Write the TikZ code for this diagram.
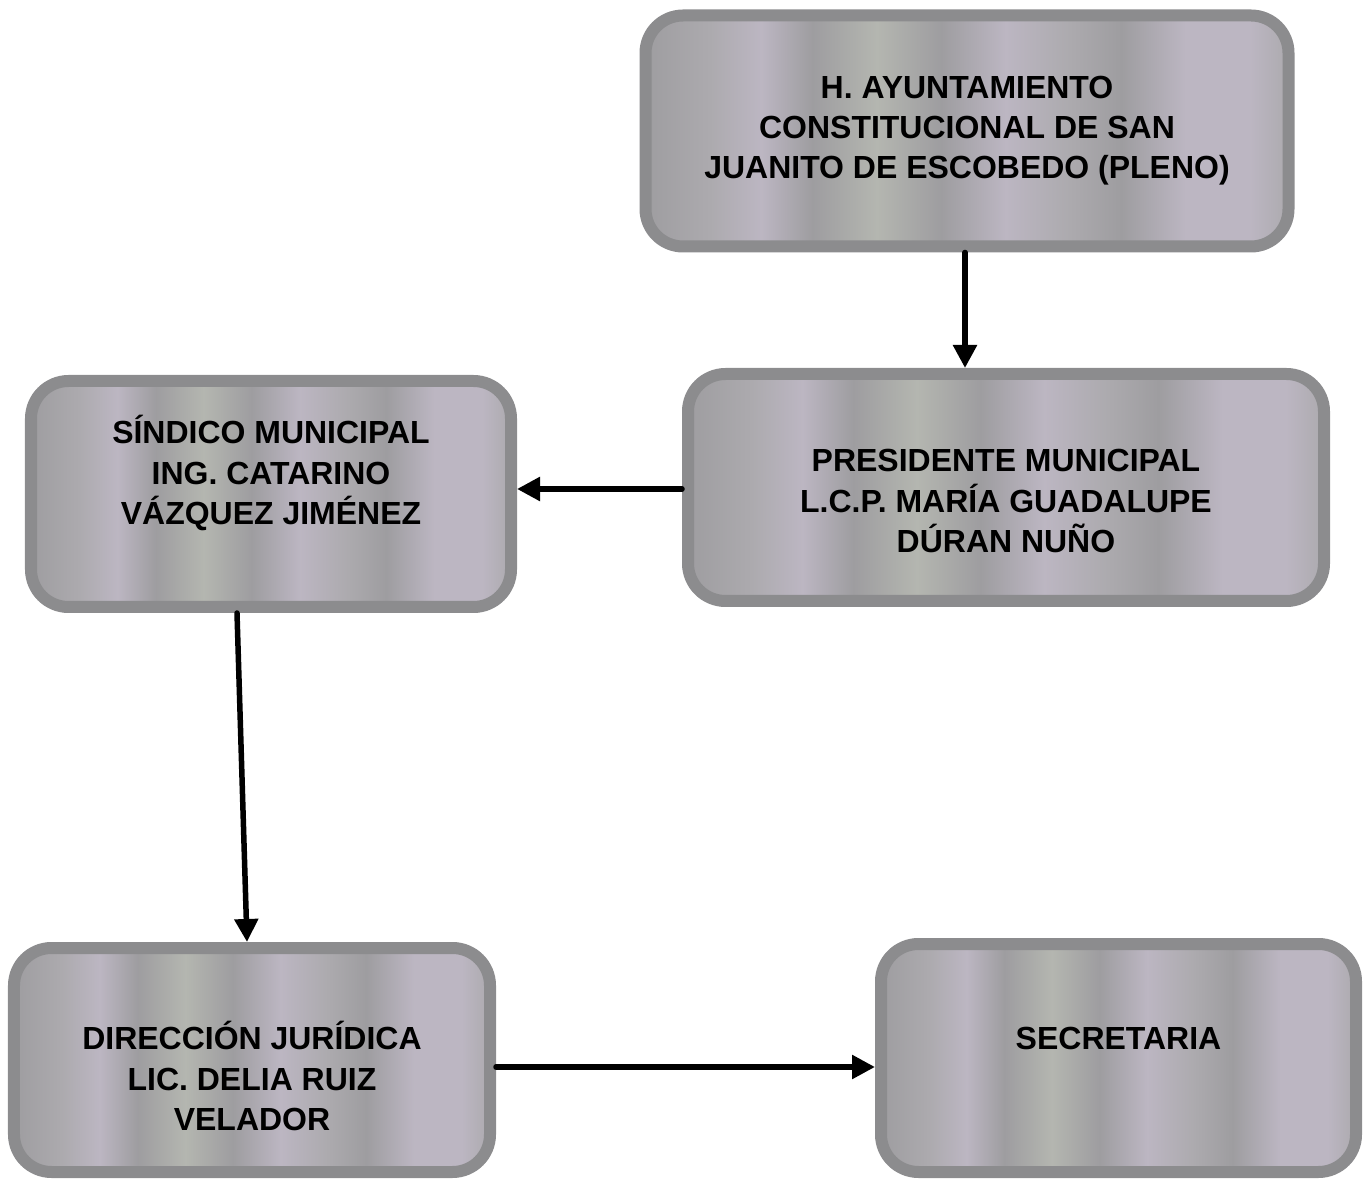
\documentclass[tikz,border=0pt]{standalone}
\usepackage{fontspec}
\setmainfont{Liberation Sans}
\usepackage{tikz}
\usetikzlibrary{arrows.meta,positioning,calc}

\definecolor{rimgray}{RGB}{140,140,142}
\definecolor{shA}{RGB}{172,170,174}
\definecolor{shB}{RGB}{188,182,194}
\definecolor{shC}{RGB}{158,157,160}
\definecolor{shD}{RGB}{180,182,176}

\pgfdeclarehorizontalshading{boxstripes}{100bp}{color(0bp)=(shA); color(25bp)=(shC);
  color(30bp)=(shA); color(34bp)=(shB); color(38bp)=(shC); color(43bp)=(shD);
  color(48bp)=(shC); color(53bp)=(shB); color(58bp)=(shA); color(62bp)=(shC);
  color(67bp)=(shB); color(72bp)=(shB); color(75bp)=(shA); color(100bp)=(shA)}

\begin{document}
\begin{tikzpicture}[line cap=round,line join=round,>=Stealth,
    orgbox/.style={draw=rimgray,line width=0.24cm,rounded corners=0.75cm,shading=boxstripes},
    orgtext/.style={align=center,font=\bfseries\fontsize{18.2}{22.8}\selectfont,inner sep=0pt},
    orgarrow/.style={line width=0.11cm,-{Triangle[length=0.46cm,width=0.46cm]}}]
    \useasboundingbox (0,0) rectangle (27.3,23.6);

    % --- Boxes ---
    \node[orgbox,minimum width=12.86cm,minimum height=4.62cm] (pleno) at (19.34,20.98) {};
    \node[orgbox,minimum width=12.72cm,minimum height=4.54cm] (pres) at (20.12,13.85) {};
    \node[orgbox,minimum width=9.6cm,minimum height=4.52cm] (sind) at (5.42,13.72) {};
    \node[orgbox,minimum width=9.52cm,minimum height=4.48cm] (jur) at (5.04,2.40) {};
    \node[orgbox,minimum width=9.5cm,minimum height=4.56cm] (secr) at (22.37,2.44) {};

    % --- Texts ---
    \node[orgtext] (pleno-t) at (pleno.center) {H. AYUNTAMIENTO\\CONSTITUCIONAL DE SAN\\JUANITO DE ESCOBEDO (PLENO)};
    \node[orgtext] (pres-t) at ([yshift=-0.27cm]pres.center) {PRESIDENTE MUNICIPAL\\L.C.P. MARÍA GUADALUPE\\DÚRAN NUÑO};
    \node[orgtext] (sind-t) at ([yshift=0.42cm]sind.center) {SÍNDICO MUNICIPAL\\ING. CATARINO\\VÁZQUEZ JIMÉNEZ};
    \node[orgtext] (jur-t) at ([yshift=-0.32cm]jur.center) {DIRECCIÓN JURÍDICA\\LIC. DELIA RUIZ\\VELADOR};
    \node[orgtext] (secr-t) at ([yshift=0.40cm]secr.center) {SECRETARIA};

    % --- Arrows ---
    \draw[orgarrow] ([xshift=-0.04cm]pleno.south) -- ([xshift=-0.04cm]pleno.south |- pres.north);
    \draw[orgarrow] ([yshift=-0.03cm]pres.west) -- ([yshift=-0.03cm]pres.west -| sind.east);
    \draw[orgarrow] ($(sind.south)+(-0.68,0)$) -- ($(jur.north)+(-0.1,0)$);
    \draw[orgarrow] ([yshift=-0.14cm]jur.east) -- ([yshift=-0.14cm]jur.east -| secr.west);

\end{tikzpicture}
\end{document}
